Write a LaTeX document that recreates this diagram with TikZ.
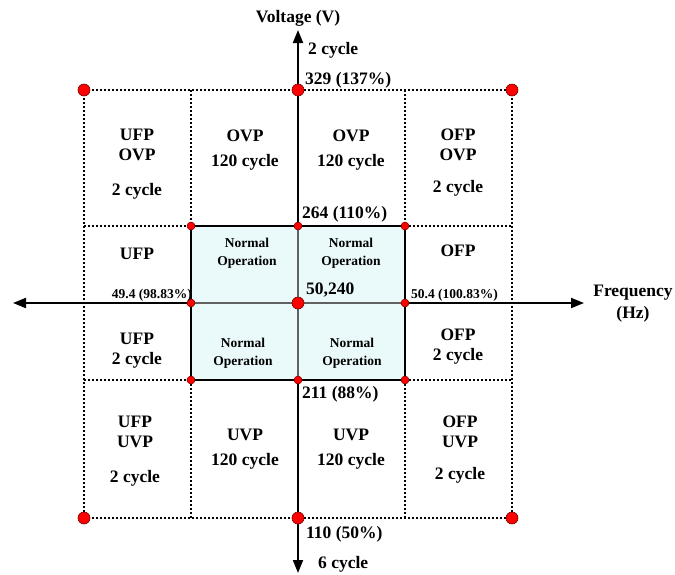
\documentclass[tikz,border=0pt]{standalone}
\usepackage{fontspec}
\setmainfont{Liberation Serif}
\usetikzlibrary{arrows.meta}
\definecolor{cellfill}{RGB}{234,250,250}
\definecolor{dotred}{RGB}{255,0,0}
\definecolor{dotedge}{RGB}{110,0,0}
\begin{document}
\begin{tikzpicture}[x=1pt,y=-1pt,
  big/.style={font=\fontsize{17.5}{20}\selectfont\bfseries, align=center, inner sep=0pt},
  small/.style={font=\fontsize{13.5}{18}\selectfont\bfseries, align=center, inner sep=0pt},
  gridline/.style={line width=1.2pt, dash pattern=on 2pt off 2pt},
  axisline/.style={line width=2pt, -{Triangle[length=13pt,width=10pt]}},
  innerline/.style={line width=1.6pt, black!62},
  bigdot/.style={circle, fill=dotred, draw=dotedge, line width=0.6pt, minimum size=12pt, inner sep=0pt},
  smalldot/.style={circle, fill=dotred, draw=dotedge, line width=0.5pt, minimum size=8pt, inner sep=0pt}]
\useasboundingbox (0,0) rectangle (675,574);
% grid coordinates
\coordinate (a1) at (84,90);   \coordinate (a2) at (191,90);  \coordinate (a3) at (298,90);  \coordinate (a4) at (405,90);  \coordinate (a5) at (512,90);
\coordinate (b1) at (84,226);  \coordinate (b2) at (191,226); \coordinate (b3) at (298,226); \coordinate (b4) at (405,226); \coordinate (b5) at (512,226);
\coordinate (c1) at (84,303);  \coordinate (c2) at (191,303); \coordinate (c3) at (298,303); \coordinate (c4) at (405,303); \coordinate (c5) at (512,303);
\coordinate (d1) at (84,380);  \coordinate (d2) at (191,380); \coordinate (d3) at (298,380); \coordinate (d4) at (405,380); \coordinate (d5) at (512,380);
\coordinate (e1) at (84,518);  \coordinate (e2) at (191,518); \coordinate (e3) at (298,518); \coordinate (e4) at (405,518); \coordinate (e5) at (512,518);
\coordinate (xl) at (13,303);  \coordinate (xr) at (584,303);
\coordinate (yt) at (298,30);  \coordinate (yb) at (298,573);
% normal operation area
\fill[cellfill] (b2) rectangle (d4);
% dotted grid
\draw[gridline] (a1) -- (a5);
\draw[gridline] (e1) -- (e5);
\draw[gridline] (a1) -- (e1);
\draw[gridline] (a5) -- (e5);
\draw[gridline] (b1) -- (b2);
\draw[gridline] (b4) -- (b5);
\draw[gridline] (d1) -- (d2);
\draw[gridline] (d4) -- (d5);
\draw[gridline] (a2) -- (b2);
\draw[gridline] (d2) -- (e2);
\draw[gridline] (a4) -- (b4);
\draw[gridline] (d4) -- (e4);
% inner axes (gray)
\draw[innerline] (c2) -- (c4);
\draw[innerline] (b3) -- (d3);
% rectangle border
\draw[line width=1.8pt] (b2) rectangle (d4);
% axes
\draw[axisline] (c2) -- (xl);
\draw[axisline] (c4) -- (xr);
\draw[axisline] (b3) -- (yt);
\draw[axisline] (d3) -- (yb);
% dots
\foreach \p in {a1,a3,a5,e1,e3,e5,c3} \node[bigdot] (dot-\p) at (\p) {};
\foreach \p in {b2,b3,b4,c2,c4,d2,d3,d4} \node[smalldot] (dot-\p) at (\p) {};
% axis labels
\node[big] (vlab) at (298,18) {Voltage (V)};
\node[big] (flab) at (633,304) {Frequency\\[2pt](Hz)};
\node[big, anchor=west] (t2c) at (308,50) {2 cycle};
\node[big, anchor=west] (t329) at (305,80) {329 (137\%)};
\node[big, anchor=west] (t264) at (302,214) {264 (110\%)};
\node[big, anchor=west] (t50) at (306,290) {50,240};
\node[small, anchor=west] (t504) at (411,295) {50.4 (100.83\%)};
\node[small, anchor=east] (t494) at (192,295) {49.4 (98.83\%)};
\node[big, anchor=west] (t211) at (302,394) {211 (88\%)};
\node[big, anchor=west] (t110) at (306,534) {110 (50\%)};
\node[big, anchor=west] (t6c) at (318,564) {6 cycle};
% region labels
\node[big] (r11) at (137,164) {UFP\\OVP\\[15pt]2 cycle};
\node[big] (r12) at (245,150) {OVP\\[5pt]120 cycle};
\node[big] (r13) at (351,150) {OVP\\[5pt]120 cycle};
\node[big] (r14) at (458,163) {OFP\\OVP\\[12pt]2 cycle};
\node[big] (r21) at (137,254) {UFP};
\node[small] (r22) at (247,253) {Normal\\Operation};
\node[small] (r23) at (351,253) {Normal\\Operation};
\node[big] (r24) at (458,251) {OFP};
\node[big] (r31) at (137,351) {UFP\\2 cycle};
\node[small] (r32) at (243,353) {Normal\\Operation};
\node[small] (r33) at (352,353) {Normal\\Operation};
\node[big] (r34) at (458,347) {OFP\\2 cycle};
\node[big] (r41) at (135,451) {UFP\\UVP\\[15pt]2 cycle};
\node[big] (r42) at (245,449) {UVP\\[5pt]120 cycle};
\node[big] (r43) at (351,449) {UVP\\[5pt]120 cycle};
\node[big] (r44) at (460,450) {OFP\\UVP\\[12pt]2 cycle};
\end{tikzpicture}
\end{document}
